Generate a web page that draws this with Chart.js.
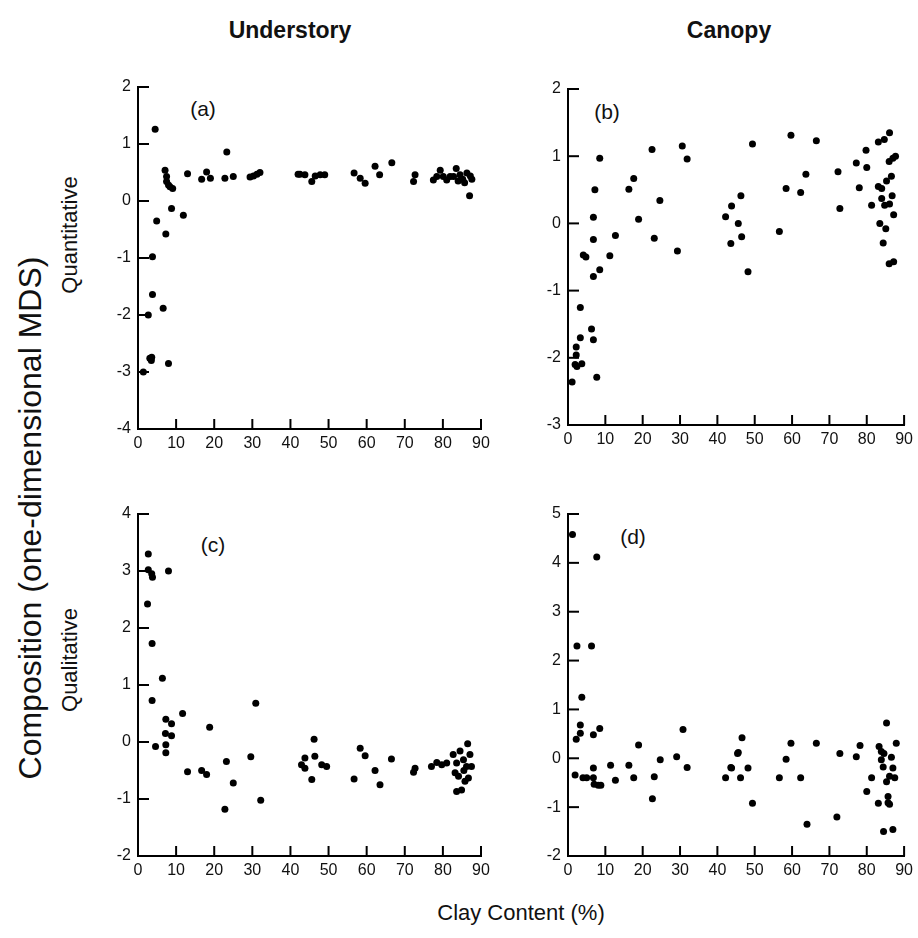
<!DOCTYPE html>
<html>
<head>
<meta charset="utf-8">
<script src="https://cdn.jsdelivr.net/npm/chart.js@4.4.1/dist/chart.umd.min.js"></script>
<style>
  body { margin: 0; width: 918px; height: 938px; background: #fff; position: relative; overflow: hidden;
         font-family: 'Liberation Sans', Arial, sans-serif; }
  .panel { position: absolute; }
  .lbl { position: absolute; color: #111; white-space: nowrap; transform: translate(-50%, -50%); }
  .rot { transform: translate(-50%, -50%) rotate(-90deg); }
</style>
</head>
<body>

<div class="lbl" style="left:290px;top:30px;font-size:23px;font-weight:bold">Understory</div>
<div class="lbl" style="left:729px;top:30px;font-size:23px;font-weight:bold">Canopy</div>
<div class="lbl rot" style="left:30px;top:518px;font-size:32px">Composition (one-dimensional MDS)</div>
<div class="lbl rot" style="left:70px;top:235px;font-size:22px">Quantitative</div>
<div class="lbl rot" style="left:70px;top:660px;font-size:22px">Qualitative</div>
<div class="lbl" style="left:521px;top:913px;font-size:22px">Clay Content (%)</div>

<div class="lbl" style="left:203px;top:109px;font-size:21px">(a)</div>
<div class="lbl" style="left:607px;top:112px;font-size:21px">(b)</div>
<div class="lbl" style="left:213px;top:545px;font-size:21px">(c)</div>
<div class="lbl" style="left:633px;top:537px;font-size:21px">(d)</div>

<div class="panel" style="left:78px;top:67px"><canvas id="chartA" width="425" height="407"></canvas></div>
<div class="panel" style="left:508px;top:69px"><canvas id="chartB" width="410" height="401"></canvas></div>
<div class="panel" style="left:78px;top:494px"><canvas id="chartC" width="425" height="407"></canvas></div>
<div class="panel" style="left:508px;top:494px"><canvas id="chartD" width="410" height="407"></canvas></div>

<script>
// clay content (%) shared tick values
const clayTicks = [0, 10, 20, 30, 40, 50, 60, 70, 80, 90]

// (a) understory, quantitative
const underQuantClay = [4.5, 7.1, 7.5, 7.5, 8, 8.4, 9.1, 8.8, 11.9, 4.9, 7.3, 3.8, 13, 16.7, 18, 19, 23.3, 22.8, 25, 29.4,
  30.3, 31.2, 32, 42, 42.5, 43.8, 45.6, 46.5, 47.8, 49, 56.7, 58.3, 59.6, 62.2, 63.4, 66.6, 72.3, 72.7, 77.5, 78.4,
  79.3, 80.1, 81, 81.9, 82.8, 83.5, 84, 84.5, 85.2, 85.7, 86.3, 87.2, 87.6, 87, 3.8, 6.6, 2.7, 3.1, 3.6, 3.5, 8, 1.4]
const underQuantMds = [1.26, 0.54, 0.43, 0.34, 0.28, 0.25, 0.22, -0.13, -0.25, -0.35, -0.58, -0.98, 0.48, 0.38, 0.51, 0.4, 0.86, 0.4, 0.43, 0.42,
  0.44, 0.47, 0.5, 0.47, 0.47, 0.46, 0.34, 0.44, 0.46, 0.46, 0.49, 0.4, 0.31, 0.61, 0.46, 0.67, 0.34, 0.46, 0.37, 0.43,
  0.54, 0.43, 0.37, 0.43, 0.43, 0.57, 0.35, 0.46, 0.38, 0.32, 0.49, 0.44, 0.38, 0.09, -1.64, -1.88, -2.0, -2.76, -2.74, -2.8, -2.85, -3.0]

// (b) canopy, quantitative
const canopyQuantClay = [8.5, 7.2, 6.8, 6.8, 4.1, 4.8, 11.2, 12.7, 16.3, 17.6, 18.9, 22.5, 23.1, 24.6, 30.6, 31.9, 29.3, 42.2, 43.8, 43.6,
  45.6, 46.3, 46.5, 48.2, 49.4, 59.7, 66.5, 63.7, 58.4, 62.3, 56.6, 72.3, 72.8, 77.2, 79.8, 80, 78, 83.1, 84.7, 86.1,
  86, 87, 87.7, 86.6, 85.3, 83.1, 84, 84, 86.8, 81.3, 84.8, 86.1, 87.2, 83.5, 85.1, 84.4, 86, 87.2, 6.8, 8.5,
  3.3, 6.3, 3.3, 6.8, 2.2, 2.2, 2.4, 3.7, 1.9, 7.7, 1.1]
const canopyQuantMds = [0.97, 0.5, 0.09, -0.24, -0.47, -0.5, -0.48, -0.18, 0.51, 0.67, 0.06, 1.1, -0.22, 0.34, 1.15, 0.96, -0.41, 0.1, 0.26, -0.3,
  0.0, 0.41, -0.2, -0.72, 1.18, 1.31, 1.23, 0.73, 0.52, 0.46, -0.12, 0.77, 0.22, 0.9, 1.09, 0.83, 0.53, 1.21, 1.25, 1.35,
  0.92, 0.97, 1.0, 0.7, 0.63, 0.55, 0.52, 0.37, 0.41, 0.27, 0.27, 0.29, 0.13, 0.0, -0.08, -0.29, -0.6, -0.57, -0.79, -0.69,
  -1.25, -1.57, -1.7, -1.73, -1.84, -1.96, -2.13, -2.09, -2.1, -2.29, -2.36]

// (c) understory, qualitative
const underQualClay = [2.7, 2.7, 3.6, 3.8, 8, 2.5, 3.7, 6.4, 3.7, 11.7, 7.3, 8.8, 7.2, 8.8, 4.6, 7.3, 7.3, 18.8, 13, 16.7,
  18, 23.2, 25, 29.6, 30.9, 32.2, 22.8, 46.2, 43.8, 42.9, 43.8, 46.4, 48.2, 49.5, 45.6, 58.3, 59.6, 56.7, 62.2, 63.5,
  66.5, 72.7, 72.3, 77, 78.4, 79.7, 81, 82.7, 83.6, 84.5, 86.5, 87.1, 85.4, 86.2, 87.5, 83.2, 84.1, 86.7, 85.8, 83.6,
  84.9, 85.5]
const underQualMds = [3.3, 3.02, 2.95, 2.89, 3.0, 2.42, 1.73, 1.12, 0.73, 0.5, 0.4, 0.32, 0.15, 0.11, -0.08, -0.05, -0.19, 0.26, -0.52, -0.5,
  -0.57, -0.34, -0.72, -0.26, 0.68, -1.02, -1.18, 0.05, -0.28, -0.4, -0.46, -0.25, -0.4, -0.43, -0.66, -0.11, -0.24, -0.65, -0.5, -0.75,
  -0.3, -0.46, -0.53, -0.43, -0.36, -0.4, -0.37, -0.22, -0.37, -0.16, -0.03, -0.22, -0.31, -0.43, -0.43, -0.54, -0.6, -0.63, -0.69, -0.87,
  -0.84, -0.5]

// (d) canopy, qualitative
const canopyQualClay = [1.2, 7.7, 2.4, 6.3, 3.7, 3.3, 3.3, 2.2, 6.8, 8.5, 1.9, 4, 5, 6.8, 6.8, 7, 8.1, 8.8, 11.4, 12.7,
  16.3, 17.6, 18.9, 23.1, 22.6, 24.7, 29.1, 30.8, 31.9, 42.2, 43.6, 45.4, 46.6, 45.6, 43.8, 48.2, 46.2, 49.4, 59.7, 58.4,
  56.6, 62.3, 66.5, 72.8, 77.2, 78.2, 85.3, 87.9, 83.3, 83.9, 84.6, 86.6, 83.9, 84.4, 87, 81.3, 86.1, 87.5, 85.3, 80,
  85.7, 83.1, 85.7, 86.1, 64, 72, 84.5, 87]
const canopyQualMds = [4.58, 4.12, 2.3, 2.3, 1.25, 0.68, 0.51, 0.39, 0.48, 0.61, -0.34, -0.4, -0.4, -0.2, -0.4, -0.53, -0.55, -0.55, -0.14, -0.45,
  -0.14, -0.4, 0.27, -0.38, -0.83, -0.03, 0.03, 0.59, -0.19, -0.4, -0.19, 0.1, 0.42, 0.12, -0.2, -0.2, -0.4, -0.92, 0.31, -0.02,
  -0.4, -0.4, 0.31, 0.1, 0.03, 0.26, 0.72, 0.31, 0.24, 0.14, 0.1, 0.02, -0.03, -0.18, -0.2, -0.4, -0.37, -0.4, -0.48, -0.68,
  -0.78, -0.92, -0.91, -0.94, -1.35, -1.2, -1.5, -1.46]

// ticks pointing into the plot, like the original figure
const inwardTicks = {
  id: 'inwardTicks',
  afterDraw(chart) {
    const { ctx, chartArea, scales } = chart
    ctx.save()
    ctx.strokeStyle = '#000'
    ctx.lineWidth = 2
    scales.x.ticks.forEach((t) => {
      const px = scales.x.getPixelForValue(t.value)
      ctx.beginPath()
      ctx.moveTo(px, chartArea.bottom)
      ctx.lineTo(px, chartArea.bottom - 10)
      ctx.stroke()
    })
    scales.y.ticks.forEach((t) => {
      const py = scales.y.getPixelForValue(t.value)
      ctx.beginPath()
      ctx.moveTo(chartArea.left, py)
      ctx.lineTo(chartArea.left + 11, py)
      ctx.stroke()
    })
    ctx.restore()
  }
}

function makePanel(id, clay, mds, yMin, yMax, padRight) {
  const points = clay.map((c, i) => ({ x: c, y: mds[i] }))
  const axisCommon = {
    grid: { display: true, drawOnChartArea: false, drawTicks: false },
    border: { display: true, color: '#000', width: 2 }
  }
  return new Chart(document.getElementById(id), {
    type: 'scatter',
    data: {
      datasets: [{
        data: points,
        pointStyle: 'circle',
        pointRadius: 3.5,
        pointHoverRadius: 3.5,
        backgroundColor: '#000',
        borderWidth: 0,
        clip: false
      }]
    },
    options: {
      responsive: false,
      animation: false,
      events: [],
      layout: { padding: { top: 20, right: padRight, left: 0, bottom: 0 } },
      plugins: { legend: { display: false }, tooltip: { enabled: false } },
      scales: {
        x: {
          type: 'linear',
          min: clayTicks[0],
          max: clayTicks[clayTicks.length - 1],
          afterBuildTicks: (scale) => { scale.ticks = clayTicks.map((v) => ({ value: v })) },
          afterFit: (scale) => { scale.height = 45 },
          ticks: { color: '#111', font: { size: 16, family: "'Liberation Sans', Arial" }, padding: 5, maxRotation: 0, autoSkip: false },
          ...axisCommon
        },
        y: {
          type: 'linear',
          min: yMin,
          max: yMax,
          afterFit: (scale) => { scale.width = 60 },
          ticks: { stepSize: 1, color: '#111', font: { size: 16, family: "'Liberation Sans', Arial" }, padding: 7 },
          ...axisCommon
        }
      }
    },
    plugins: [inwardTicks]
  })
}

makePanel('chartA', underQuantClay, underQuantMds, -4, 2, 22)
makePanel('chartB', canopyQuantClay, canopyQuantMds, -3, 2, 10)
makePanel('chartC', underQualClay, underQualMds, -2, 4, 22)
makePanel('chartD', canopyQualClay, canopyQualMds, -2, 5, 10)
</script>
</body>
</html>
